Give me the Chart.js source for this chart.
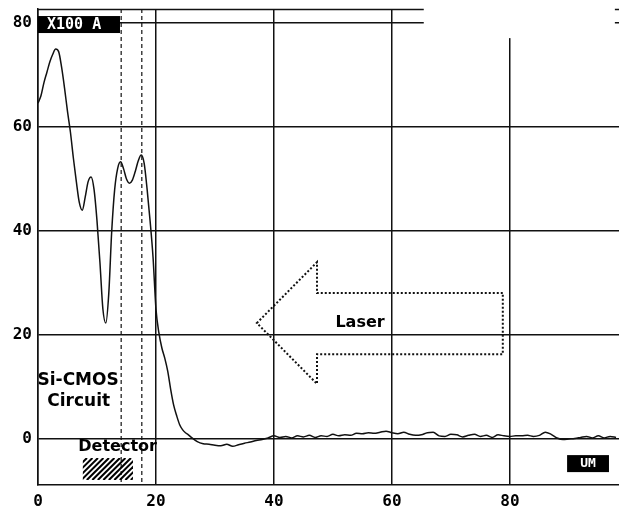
<!DOCTYPE html>
<html>
<head>
<meta charset="utf-8">
<script src="https://cdn.jsdelivr.net/npm/chart.js@4.4.1/dist/chart.umd.min.js"></script>
<style>
html,body{margin:0;padding:0;background:#fff;}
#wrap{width:619px;height:510px;position:relative;}
</style>
</head>
<body>
<div id="wrap"><canvas id="c"></canvas></div>
<script>
// ---- data ----
const positionsUm = [0,0.5,1,1.5,2,2.5,3,3.5,4,4.5,5,5.5,6,6.5,7,7.5,8,8.5,9,9.5,10,10.5,11,11.5,12,12.5,13,13.5,14,14.5,15,15.5,16,16.5,17,17.5,18,18.5,19,19.5,20,20.5,21,21.5,22,22.5,23,23.5,24,24.5,25,25.5,26,27,28,29,30,31,32,33,34,35,36,37,38,39,40,41,42,43,44,45,46,47,48,49,50,51,52,53,54,55,56,57,58,59,60,61,62,63,64,65,66,67,68,69,70,71,72,73,74,75,76,77,78,79,80,81,82,83,84,85,86,87,88,89,90,91,92,93,94,95,96,97,98];
const signal = [64.6,66,68.5,70.5,72.5,74,75,74.5,71.5,67.5,63,59,54,49.5,45.5,44,46.5,49.5,50.4,48,42,34,25,22.3,28,40,48,52,53.3,52,50,49.2,49.8,51.5,53.5,54.6,53,48,42,35,25,20.4,17.5,15.5,13,9.5,6.5,4.5,2.8,1.8,1.2,0.8,0.3,-0.5,-0.9,-1.0,-1.2,-1.3,-1.0,-1.4,-1.1,-0.8,-0.6,-0.3,-0.1,0.2,0.6,0.3,0.5,0.2,0.6,0.4,0.7,0.3,0.6,0.5,0.9,0.6,0.8,0.7,1.1,1.0,1.2,1.1,1.3,1.5,1.2,1.0,1.3,0.9,0.7,0.8,1.2,1.3,0.6,0.5,0.9,0.8,0.4,0.7,0.9,0.5,0.7,0.3,0.8,0.6,0.5,0.6,0.6,0.7,0.5,0.7,1.3,0.9,0.2,-0.1,0.0,0.1,0.3,0.5,0.2,0.6,0.2,0.5,0.3];
const xTicks = [0,20,40,60,80];
const yTicks = [0,20,40,60,80];
const markerLinesUm = [14.1,17.6];
const unitLabel = "X100 A";
const xUnitLabel = "UM";
const laserLabel = "Laser";
const circuitLabel = ["Si-CMOS","Circuit"];
const detectorLabel = "Detector";

const X_MIN = 0, X_MAX = 98.5, Y_MIN = -8.85, Y_MAX = 82.7;
const INK = '#111';

const decor = {
  id: 'decor',
  beforeDatasetsDraw(chart) {
    const ctx = chart.ctx, xs = chart.scales.x, ys = chart.scales.y;
    const X = v => xs.getPixelForValue(v), Y = v => ys.getPixelForValue(v);
    const a = chart.chartArea;
    ctx.save();
    // top border
    ctx.strokeStyle = INK; ctx.lineWidth = 1.5;
    ctx.beginPath(); ctx.moveTo(a.left, a.top + 0.5); ctx.lineTo(a.right, a.top + 0.5); ctx.stroke();
    // dashed marker lines
    ctx.setLineDash([4,3]); ctx.lineWidth = 1.2;
    markerLinesUm.forEach(v => {
      ctx.beginPath(); ctx.moveTo(X(v), a.top); ctx.lineTo(X(v), a.bottom); ctx.stroke();
    });
    ctx.setLineDash([]);
    // laser arrow (dotted outline)
    const arrow = [[37.1,22.3],[47.3,34],[47.3,28.1],[78.8,28.1],[78.8,16.3],[47.3,16.3],[47.3,10.6]];
    ctx.setLineDash([2,2]); ctx.lineWidth = 2;
    ctx.beginPath();
    arrow.forEach((p,i) => i ? ctx.lineTo(X(p[0]), Y(p[1])) : ctx.moveTo(X(p[0]), Y(p[1])));
    ctx.closePath(); ctx.stroke();
    ctx.setLineDash([]);
    // hatched detector block
    const hx0 = X(7.6), hx1 = X(16.1), hy0 = Y(-3.65), hy1 = Y(-7.9);
    ctx.save();
    ctx.beginPath(); ctx.rect(hx0, hy0, hx1 - hx0, hy1 - hy0); ctx.clip();
    ctx.lineWidth = 2; ctx.strokeStyle = '#000';
    for (let s = hx0 - 40; s < hx1 + 40; s += 5.5) {
      ctx.beginPath(); ctx.moveTo(s, hy1); ctx.lineTo(s + (hy1 - hy0), hy0); ctx.stroke();
    }
    ctx.restore();
    ctx.restore();
  },
  afterDraw(chart) {
    const ctx = chart.ctx, xs = chart.scales.x, ys = chart.scales.y;
    const X = v => xs.getPixelForValue(v), Y = v => ys.getPixelForValue(v);
    const a = chart.chartArea;
    ctx.save();
    // white mask top-right
    ctx.fillStyle = '#fff';
    ctx.fillRect(X(65.4), 0, X(97.8) - X(65.4), Y(77.1));
    // X100 A box
    ctx.fillStyle = '#000';
    ctx.fillRect(a.left, Y(80) - 7, X(13.9) - a.left, 17);
    ctx.fillStyle = '#fff';
    ctx.font = 'bold 15px "DejaVu Sans Mono"';
    ctx.textBaseline = 'middle'; ctx.textAlign = 'left';
    ctx.fillText(unitLabel, a.left + 9, Y(80) + 2);
    // UM box
    ctx.fillStyle = '#000';
    ctx.fillRect(X(89.7), Y(-3.1), X(96.8) - X(89.7), 17);
    ctx.fillStyle = '#fff';
    ctx.font = 'bold 13px "DejaVu Sans Mono"';
    ctx.textAlign = 'center';
    ctx.fillText(xUnitLabel, (X(89.7) + X(96.8)) / 2, Y(-3.1) + 9);
    // text labels
    ctx.fillStyle = '#000';
    ctx.font = 'bold 16px "DejaVu Sans"';
    ctx.textAlign = 'center'; ctx.textBaseline = 'middle';
    ctx.fillText(laserLabel, X(54.6), Y(22.3));
    ctx.font = 'bold 17px "DejaVu Sans"';
    ctx.fillText(circuitLabel[0], X(6.8), Y(11.3));
    ctx.fillText(circuitLabel[1], X(6.9), Y(7.1));
    ctx.font = 'bold 16px "DejaVu Sans"';
    ctx.fillText(detectorLabel, X(13.5), Y(-1.5));
    ctx.restore();
  }
};

new Chart(document.getElementById('c'), {
  type: 'line',
  data: {
    datasets: [{
      data: positionsUm.map((x, i) => ({x, y: signal[i]})),
      borderColor: INK, borderWidth: 1.5, pointRadius: 0,
      cubicInterpolationMode: 'monotone', fill: false
    }]
  },
  options: {
    responsive: true, maintainAspectRatio: false, animation: false,
    devicePixelRatio: 1,
    layout: { padding: { top: 9, left: 0, right: 0, bottom: 0 } },
    plugins: { legend: { display: false }, tooltip: { enabled: false } },
    scales: {
      x: {
        type: 'linear', min: X_MIN, max: X_MAX,
        afterBuildTicks: ax => { ax.ticks = xTicks.map(v => ({value: v})); },
        afterFit: ax => { ax.height = 25; ax.paddingLeft = 0; ax.paddingRight = 0; },
        grid: { color: INK, lineWidth: 1.5, drawTicks: false },
        border: { display: true, color: INK, width: 1.5 },
        ticks: { color: '#000', padding: 7, maxRotation: 0, autoSkip: false,
                 font: { family: 'DejaVu Sans Mono', size: 16, weight: 'bold' } }
      },
      y: {
        type: 'linear', min: Y_MIN, max: Y_MAX,
        afterBuildTicks: ax => { ax.ticks = yTicks.map(v => ({value: v})); },
        afterFit: ax => { ax.width = 38; ax.paddingTop = 0; ax.paddingBottom = 0; },
        grid: { color: INK, lineWidth: 1.5, drawTicks: false },
        border: { display: true, color: INK, width: 1.5 },
        ticks: { color: '#000', padding: 6, autoSkip: false,
                 font: { family: 'DejaVu Sans Mono', size: 16, weight: 'bold' } }
      }
    }
  },
  plugins: [decor]
});
</script>
</body>
</html>
